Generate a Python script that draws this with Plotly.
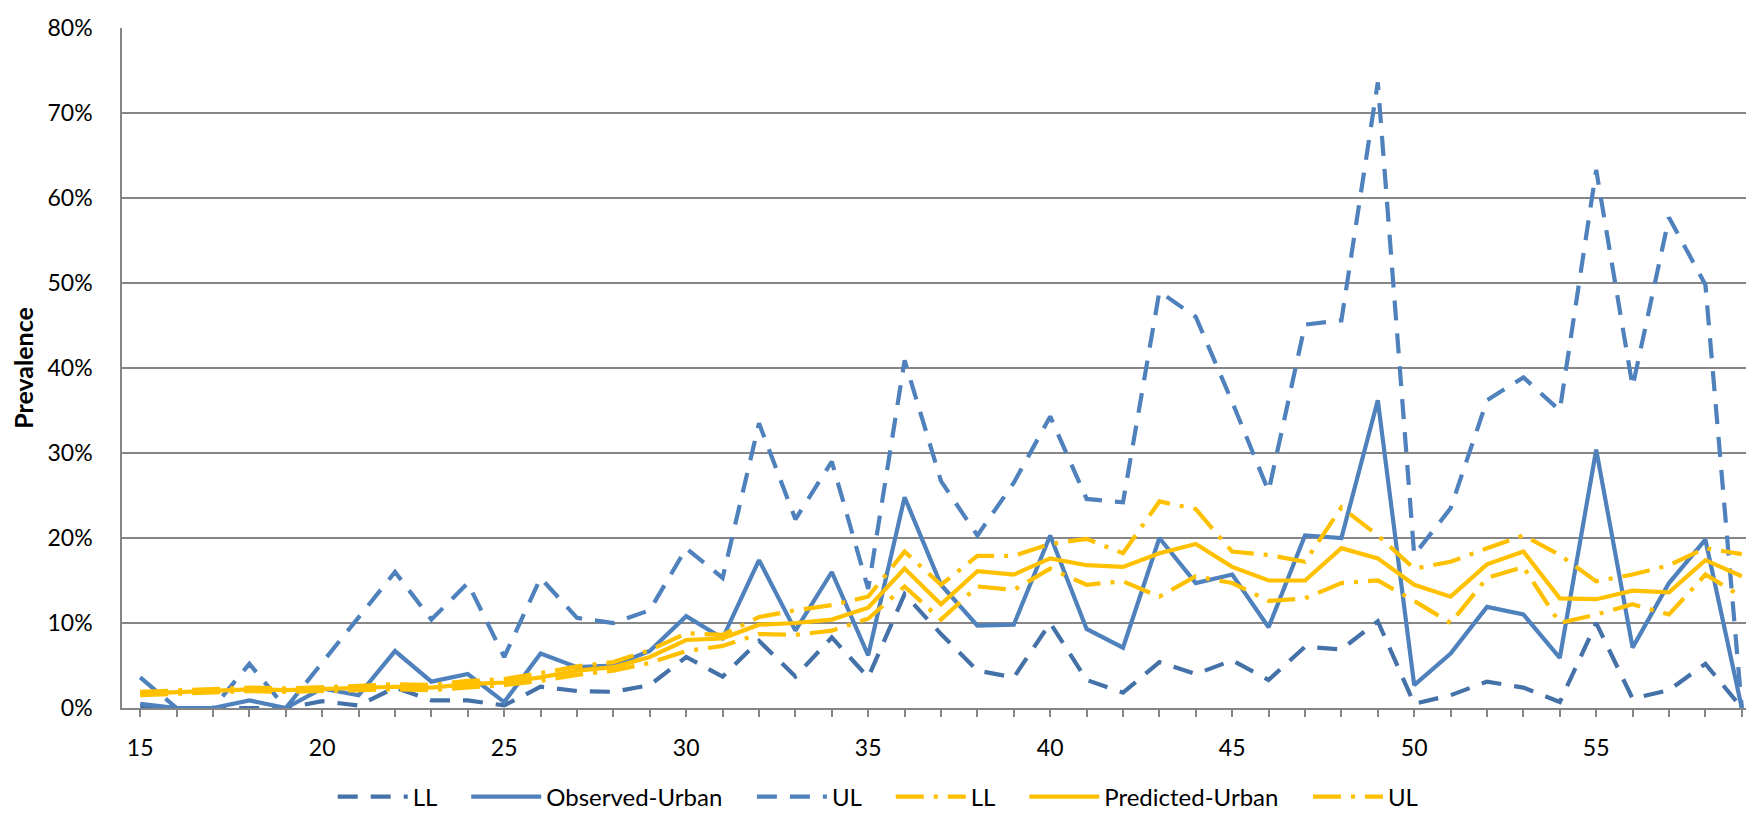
import plotly.graph_objects as go

ages = list(range(15, 60))

obs_ll = [0.2, 0, 0, 0, 0, 0.8, 0.3, 2.4, 0.9, 0.9,
          0.3, 2.5, 2.0, 1.9, 2.7, 6.0, 3.7, 7.9, 3.7, 8.3,
          3.6, 13.4, 8.7, 4.4, 3.6, 10.0, 3.3, 1.8, 5.4, 4.0,
          5.6, 3.3, 7.2, 6.9, 10.2, 0.5, 1.5, 3.1, 2.4, 0.7,
          10.0, 1.1, 2.1, 5.2, 0.0]
obs = [0.5, 0.0, 0.0, 0.9, 0.0, 2.3, 1.5, 6.7, 3.1, 4.0,
       0.7, 6.4, 4.8, 5.0, 6.7, 10.8, 8.2, 17.4, 9.1, 16.0,
       6.2, 24.8, 14.5, 9.7, 9.8, 20.3, 9.3, 7.1, 20.0, 14.7,
       15.7, 9.5, 20.3, 20.0, 36.2, 2.7, 6.4, 11.9, 11.0, 5.9,
       30.4, 7.1, 14.7, 19.8, 0.0]
obs_ul = [3.6, 0, 0, 5.2, 0, 5.3, 10.6, 16.0, 10.4, 14.7,
          6.0, 15.3, 10.6, 10.0, 11.5, 18.8, 15.3, 33.5, 22.2, 29.0,
          14.0, 40.9, 26.7, 20.3, 26.5, 34.3, 24.6, 24.2, 49.0, 46.0,
          36.0, 25.5, 45.1, 45.6, 73.6, 18.0, 23.5, 36.2, 38.9, 35.0,
          63.3, 37.8, 57.7, 49.8, 0.0]
pred_ll = [1.5, 1.7, 1.9, 2.0, 1.9, 2.0, 2.1, 2.2, 2.1, 2.4,
           2.7, 3.2, 3.9, 4.4, 5.3, 6.7, 7.3, 8.7, 8.6, 9.1,
           10.5, 14.3, 10.4, 14.3, 13.9, 16.4, 14.5, 14.9, 13.1, 15.5,
           14.7, 12.6, 12.9, 14.7, 15.0, 12.6, 10.0, 15.3, 16.6, 10.0,
           11.0, 12.2, 11.0, 15.7, 13.1]
pred = [1.7, 1.9, 2.0, 2.2, 2.1, 2.2, 2.3, 2.5, 2.4, 2.8,
        3.0, 3.6, 4.4, 4.8, 6.0, 8.0, 8.2, 9.8, 10.0, 10.4,
        11.8, 16.4, 12.2, 16.1, 15.7, 17.6, 16.8, 16.6, 18.2, 19.3,
        16.6, 15.0, 15.0, 18.8, 17.6, 14.5, 13.1, 16.9, 18.4, 12.9,
        12.8, 13.8, 13.6, 17.4, 15.5]
pred_ul = [1.9, 2.1, 2.2, 2.4, 2.3, 2.4, 2.6, 2.8, 2.7, 3.2,
           3.4, 4.1, 4.9, 5.4, 6.8, 8.8, 8.6, 10.7, 11.5, 12.1,
           13.1, 18.4, 14.5, 17.9, 17.9, 19.3, 19.9, 18.2, 24.3, 23.4,
           18.4, 18.0, 17.2, 23.6, 20.3, 16.4, 17.2, 18.8, 20.3, 18.0,
           14.9, 15.7, 16.8, 18.8, 18.1]

series_names = ["LL", "Observed-Urban", "UL", "LL", "Predicted-Urban", "UL"]
tick_labels = {15: "15", 20: "20", 25: "25", 30: "30", 35: "35", 40: "40", 45: "45", 50: "50", 55: "55"}

BLUE = "#4F81BD"
BLUE_DARK = "#4472A8"
GOLD = "#FFC000"
FONT = "Lato"
PAD = "\u00a0" * 4  # invisible spacing after each legend label

series = [
    (obs_ll, BLUE_DARK, "20px,13px"),
    (obs, BLUE, "solid"),
    (obs_ul, BLUE, "20px,13px"),
    (pred_ll, GOLD, "28px,10px,4px,10px"),
    (pred, GOLD, "solid"),
    (pred_ul, GOLD, "28px,10px,4px,10px"),
]

fig = go.Figure()
for name, (vals, color, dash) in zip(series_names, series):
    fig.add_trace(go.Scatter(
        x=ages, y=[v / 100 for v in vals], name=name + PAD, mode="lines",
        line=dict(color=color, width=4.2, dash=dash),
    ))

fig.update_layout(
    width=1754, height=814, autosize=False,
    margin=dict(l=114, r=2, t=20, b=106),
    plot_bgcolor="white", paper_bgcolor="white",
    font=dict(family=FONT, size=23, color="black"),
    showlegend=True,
    legend=dict(orientation="h", x=0.469, xanchor="center", y=-0.131, yanchor="middle",
                font=dict(family=FONT, size=24), itemwidth=70, traceorder="normal",
                bgcolor="rgba(0,0,0,0)"),
)

fig.update_xaxes(
    range=[14.5, 59.5], tickmode="array",
    tickvals=ages, ticktext=[tick_labels.get(a, "") for a in ages],
    ticks="outside", ticklen=7, tickwidth=1.5, tickcolor="#868686",
    showline=True, linecolor="#868686", linewidth=1.5,
    showgrid=False, zeroline=False, ticklabelstandoff=12,
    tickfont=dict(family=FONT, size=23),
)
fig.update_yaxes(
    range=[0, 0.8], dtick=0.1, tickformat=".0%",
    showline=True, linecolor="#868686", linewidth=1.5,
    showgrid=True, gridcolor="#868686", gridwidth=1.5, zeroline=False,
    ticks="", ticklabelstandoff=23,
    tickfont=dict(family=FONT, size=23),
    title=dict(text="<b>Prevalence</b>", font=dict(family=FONT, size=25), standoff=8),
)

fig.write_html("out.html")
